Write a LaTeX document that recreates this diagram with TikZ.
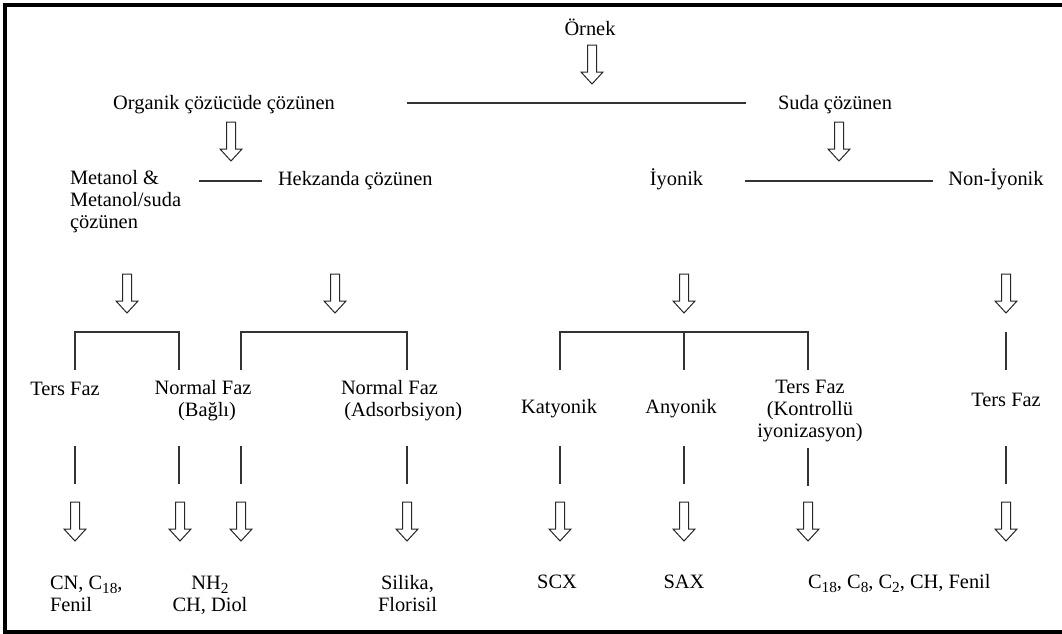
\documentclass[tikz,border=0pt]{standalone}
\usepackage{fontspec}
\setmainfont{Liberation Serif}
% subscript used in the sorbent labels
\newcommand{\sbs}[1]{\raisebox{-0.22em}{\fontsize{11.5}{12}\selectfont #1}}
\begin{document}
\begin{tikzpicture}[x=0.75pt,y=-0.75pt,
  lbl/.style={inner sep=0pt, outer sep=0pt, font=\fontsize{15.3}{16.4}\selectfont},
  conn/.style={draw=black!80, line width=0.85pt},
  frame/.style={draw=black, line width=3pt},
  darr/.pic={\draw[line width=0.75pt, draw=black!85, line join=miter]
      (-4.5,0) -- (-4.5,27) -- (-11,27) -- (0,39) -- (11,27) -- (4.5,27) -- (4.5,0) -- cycle;}
]
\useasboundingbox (0,0) rectangle (1062,633);
\begin{scope}
\clip (0,0) rectangle (1062,633);
\draw[frame] (1075,4.5) -- (5,4.5) -- (5,631.5) -- (1075,631.5);
\end{scope}

% ---- level 0 and 1 ----
% (multi-line nodes are anchored at the baseline of their last line)
\node[lbl, anchor=base] (ornek) at (590,35) {Örnek};
\pic (a0) at (592,45) {darr};
\node[lbl, anchor=base] (org) at (224,109) {Organik çözücüde çözünen};
\node[lbl, anchor=base] (suda) at (835,109) {Suda çözünen};
\coordinate (orgR) at (407,103);
\coordinate (sudaL) at (746,103);
\draw[conn] (orgR) -- (sudaL);

% ---- level 2 ----
\pic (a1) at (231,122) {darr};
\pic (a2) at (839,122) {darr};
\node[lbl, anchor=base west, align=left] (met) at (70,228) {Metanol \&\\Metanol/suda\\çözünen};
\node[lbl, anchor=base west] (hek) at (278,185) {Hekzanda çözünen};
\node[lbl, anchor=base] (iyo) at (676.5,185) {İyonik};
\node[lbl, anchor=base] (noniyo) at (996,185) {Non-İyonik};
\coordinate (metR) at (199,181);
\coordinate (hekL) at (262,181);
\draw[conn] (metR) -- (hekL);
\coordinate (iyoR) at (745,181);
\coordinate (noniyoL) at (933,181);
\draw[conn] (iyoR) -- (noniyoL);

% ---- level 3: arrows and brackets ----
\pic (a3) at (127,274) {darr};
\pic (a4) at (335,274) {darr};
\pic (a5) at (684,274) {darr};
\pic (a6) at (1006,274) {darr};
\coordinate (b1l) at (75,370);
\coordinate (b1r) at (179,370);
\draw[conn] (b1l) -- ++(0,-38) -| (b1r);
\coordinate (b2l) at (241,370);
\coordinate (b2r) at (407,370);
\draw[conn] (b2l) -- ++(0,-38) -| (b2r);
\coordinate (b3l) at (560,370);
\coordinate (b3m) at (684,370);
\coordinate (b3r) at (808,370);
\draw[conn] (b3l) -- ++(0,-38) -| (b3r);
\draw[conn] (b3m) -- ++(0,-38);
\coordinate (b4) at (1006,370);
\draw[conn] (b4) -- ++(0,-38);

% ---- level 4: phase types ----
\node[lbl, anchor=base] (tf1) at (65,395) {Ters Faz};
\node[lbl, anchor=base, align=center] (nf1) at (203,416) {Normal Faz\\\hspace*{6pt}(Bağlı)};
\node[lbl, anchor=base west, align=left] (nf2) at (341,416) {Normal Faz\\\hspace*{2.5pt}(Adsorbsiyon)};
\node[lbl, anchor=base] (kat) at (559,413) {Katyonik};
\node[lbl, anchor=base] (any) at (681,413) {Anyonik};
\node[lbl, anchor=base, align=center] (tf2) at (810,437) {Ters Faz\\(Kontrollü\\iyonizasyon)};
\node[lbl, anchor=base] (tf3) at (1006,406) {Ters Faz};

% ---- level 5: stems and arrows ----
\foreach \x/\t in {75/446,179/446,241/446,407/446,560/446,684/446,808/448,1006/446}
  \draw[conn] (\x,\t) -- ++(0,38);
\foreach \x in {75,180,241,407,560,684,808,1006}
  \pic at (\x,502) {darr};

% ---- level 6: sorbents ----
\node[lbl, anchor=base west, align=left] (s1) at (50,611) {CN, C\sbs{18},\\Fenil};
\node[lbl, anchor=base, align=center] (s2) at (210,611) {NH\sbs{2}\\CH, Diol};
\node[lbl, anchor=base, align=center] (s3) at (407.5,611) {Silika,\\Florisil};
\node[lbl, anchor=base] (s4) at (557,588) {SCX};
\node[lbl, anchor=base] (s5) at (684,588) {SAX};
\node[lbl, anchor=base west] (s6) at (808,588) {C\sbs{18}, C\sbs{8}, C\sbs{2}, CH, Fenil};
\end{tikzpicture}
\end{document}
